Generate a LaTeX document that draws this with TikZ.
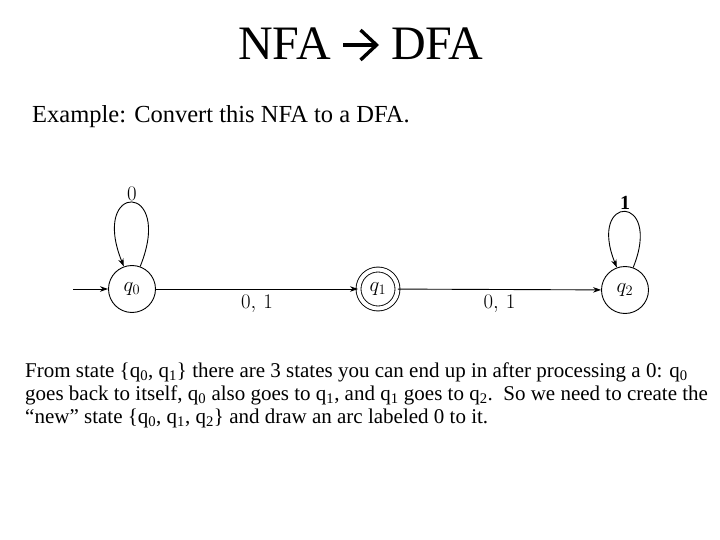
\documentclass[tikz,border=0pt]{standalone}
\usepackage{fontspec}
\setmainfont{Liberation Serif}
\usetikzlibrary{arrows.meta}
\newcommand\qq[1]{q\textsubscript{#1}}
\begin{document}
\begin{tikzpicture}[x=1pt,y=-1pt,
  state/.style={circle,draw,line width=0.9pt,minimum size=47pt,inner sep=0pt,font=\fontsize{21}{21}\selectfont},
  accstate/.style={state,double,double distance=4pt,minimum size=39pt},
  edge/.style={-{Stealth[length=8pt,width=5.5pt]},line width=0.9pt},
  lbl/.style={font=\fontsize{20}{20}\selectfont,inner sep=1pt},
  titletext/.style={inner sep=0pt,font=\fontsize{48}{48}\selectfont},
  bodytext/.style={anchor=west,inner sep=0pt,font=\fontsize{21}{21}\selectfont}]
\useasboundingbox[fill=white] (0,0) rectangle (720,540);

\node[titletext,anchor=base east] (nfa) at (331,60) {NFA};
\node[titletext,anchor=base west] (dfa) at (391,60) {DFA};
\draw[line width=3.2pt,-{Straight Barb[length=16pt,width=30pt,line width=3.4pt]}] ([shift={(12,-15)}]nfa.base east) -- ([shift={(-12,-15)}]dfa.base west);
\node[anchor=west,inner sep=0pt] (ex) at (32,117) {\fontsize{24.5}{24.5}\selectfont Example: Convert this NFA to a DFA.};

\node[state] (q0) at (132,289) {$q_0$};
\node[accstate] (q1) at (378,289) {$q_1$};
\node[state] (q2) at (625,290) {$q_2$};
\coordinate (start) at (73,289);

\draw[edge] (start) -- (q0);
\draw[edge] (q0) -- node[lbl,below=5pt] {$0,\,1$} (q1);
\draw[edge] (q1) -- node[lbl,below=4pt] {$0,\,1$} (q2);
\draw[edge] (q0.70) .. controls +(-68:92) and +(-112:92) .. node[lbl,above=1pt] {$0$} (q0.110);
\draw[edge] (q2.70) .. controls +(-68:80) and +(-112:80) .. node[lbl,above=1pt] {$\mathbf{1}$} (q2.110);

\node[bodytext] (l1) at (25,372) {From state \{\qq0, \qq1\} there are 3 states you can end up in after processing a 0: \qq0};
\node[bodytext] (l2) at (25,395) {goes back to itself, \qq0{} also goes to \qq1, and \qq1{} goes to \qq2.\ \ So we need to create the};
\node[bodytext] (l3) at (25,418) {``new'' state \{\qq0, \qq1, \qq2\} and draw an arc labeled 0 to it.};
\end{tikzpicture}
\end{document}
